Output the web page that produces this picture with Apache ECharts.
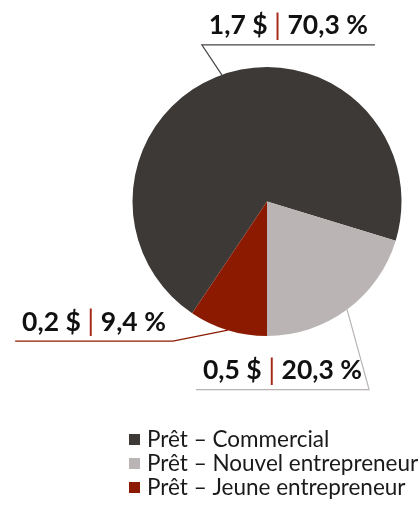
<!DOCTYPE html>
<html>
<head>
<meta charset="utf-8">
<script src="https://cdn.jsdelivr.net/npm/echarts@6/dist/echarts.min.js"></script>
<style>
  html, body { margin: 0; padding: 0; background: #fff; }
  #main { width: 419px; height: 510px; }
</style>
</head>
<body>
<div id="main"></div>
<script>
var categories = ['Prêt – Commercial', 'Prêt – Nouvel entrepreneur', 'Prêt – Jeune entrepreneur'];
var amounts = [1.7, 0.5, 0.2];
var percents = [70.3, 20.3, 9.4];
var colors = ['#3d3936', '#bab5b4', '#8b1a00'];
var lineColors = ['#4a4644', '#b8b3b2', '#8b1a00'];

// coude de chaque trait d'étiquette (décalage depuis le bord) et sens du trait horizontal
var elbows = [
    { dx: -20, dy: -30, dir: 1 },
    { dx: 22, dy: 80, dir: -1 },
    { dx: -55, dy: 11, dir: -1 }
];

var FONT = 'Lato';

function fr(v) {
    return v.toFixed(1).replace('.', ',');
}

var myChart = echarts.init(document.getElementById('main'));

var data = categories.map(function (name, i) {
    return {
        name: name,
        value: percents[i],
        labelLine: { lineStyle: { color: lineColors[i] } }
    };
});

var option = {
    animation: false,
    color: colors,
    legend: {
        orient: 'vertical',
        left: 124,
        top: 423,
        itemWidth: 11,
        itemHeight: 11,
        itemGap: 1,
        icon: 'rect',
        data: categories,
        textStyle: {
            fontFamily: FONT,
            fontSize: 22.5,
            lineHeight: 23,
            color: '#1a1a1a',
            padding: [0, 0, 0, 2]
        }
    },
    series: [{
        type: 'pie',
        center: [267, 201.5],
        radius: 134.5,
        startAngle: 270 - percents[2] * 3.6,   // la dernière part se termine en bas
        data: data,
        label: {
            show: true,
            position: 'outside',
            overflow: 'none',
            edgeDistance: 0,
            formatter: function (p) {
                var i = p.dataIndex;
                return '{v|' + fr(amounts[i]) + ' $ }{s||}{v| ' + fr(percents[i]) + ' %}';
            },
            rich: {
                v: { fontFamily: FONT, fontWeight: 'bold', fontSize: 26.5, color: '#111' },
                s: { fontFamily: FONT, fontSize: 28, color: '#a52a1a' }
            }
        },
        labelLine: {
            show: true,
            length: 10,
            length2: 10,
            lineStyle: { width: 1.2 }
        },
        labelLayout: function (params) {
            var e = elbows[params.dataIndex];
            var p0 = params.labelLinePoints[0];
            var ex = p0[0] + e.dx, ey = p0[1] + e.dy;
            var endX = ex + e.dir * (params.labelRect.width + 14);
            return {
                x: (ex + endX) / 2,
                y: ey - 5,
                align: 'center',
                verticalAlign: 'bottom',
                labelLinePoints: [p0, [ex, ey], [endX, ey]]
            };
        }
    }]
};

myChart.setOption(option);
</script>
</body>
</html>
